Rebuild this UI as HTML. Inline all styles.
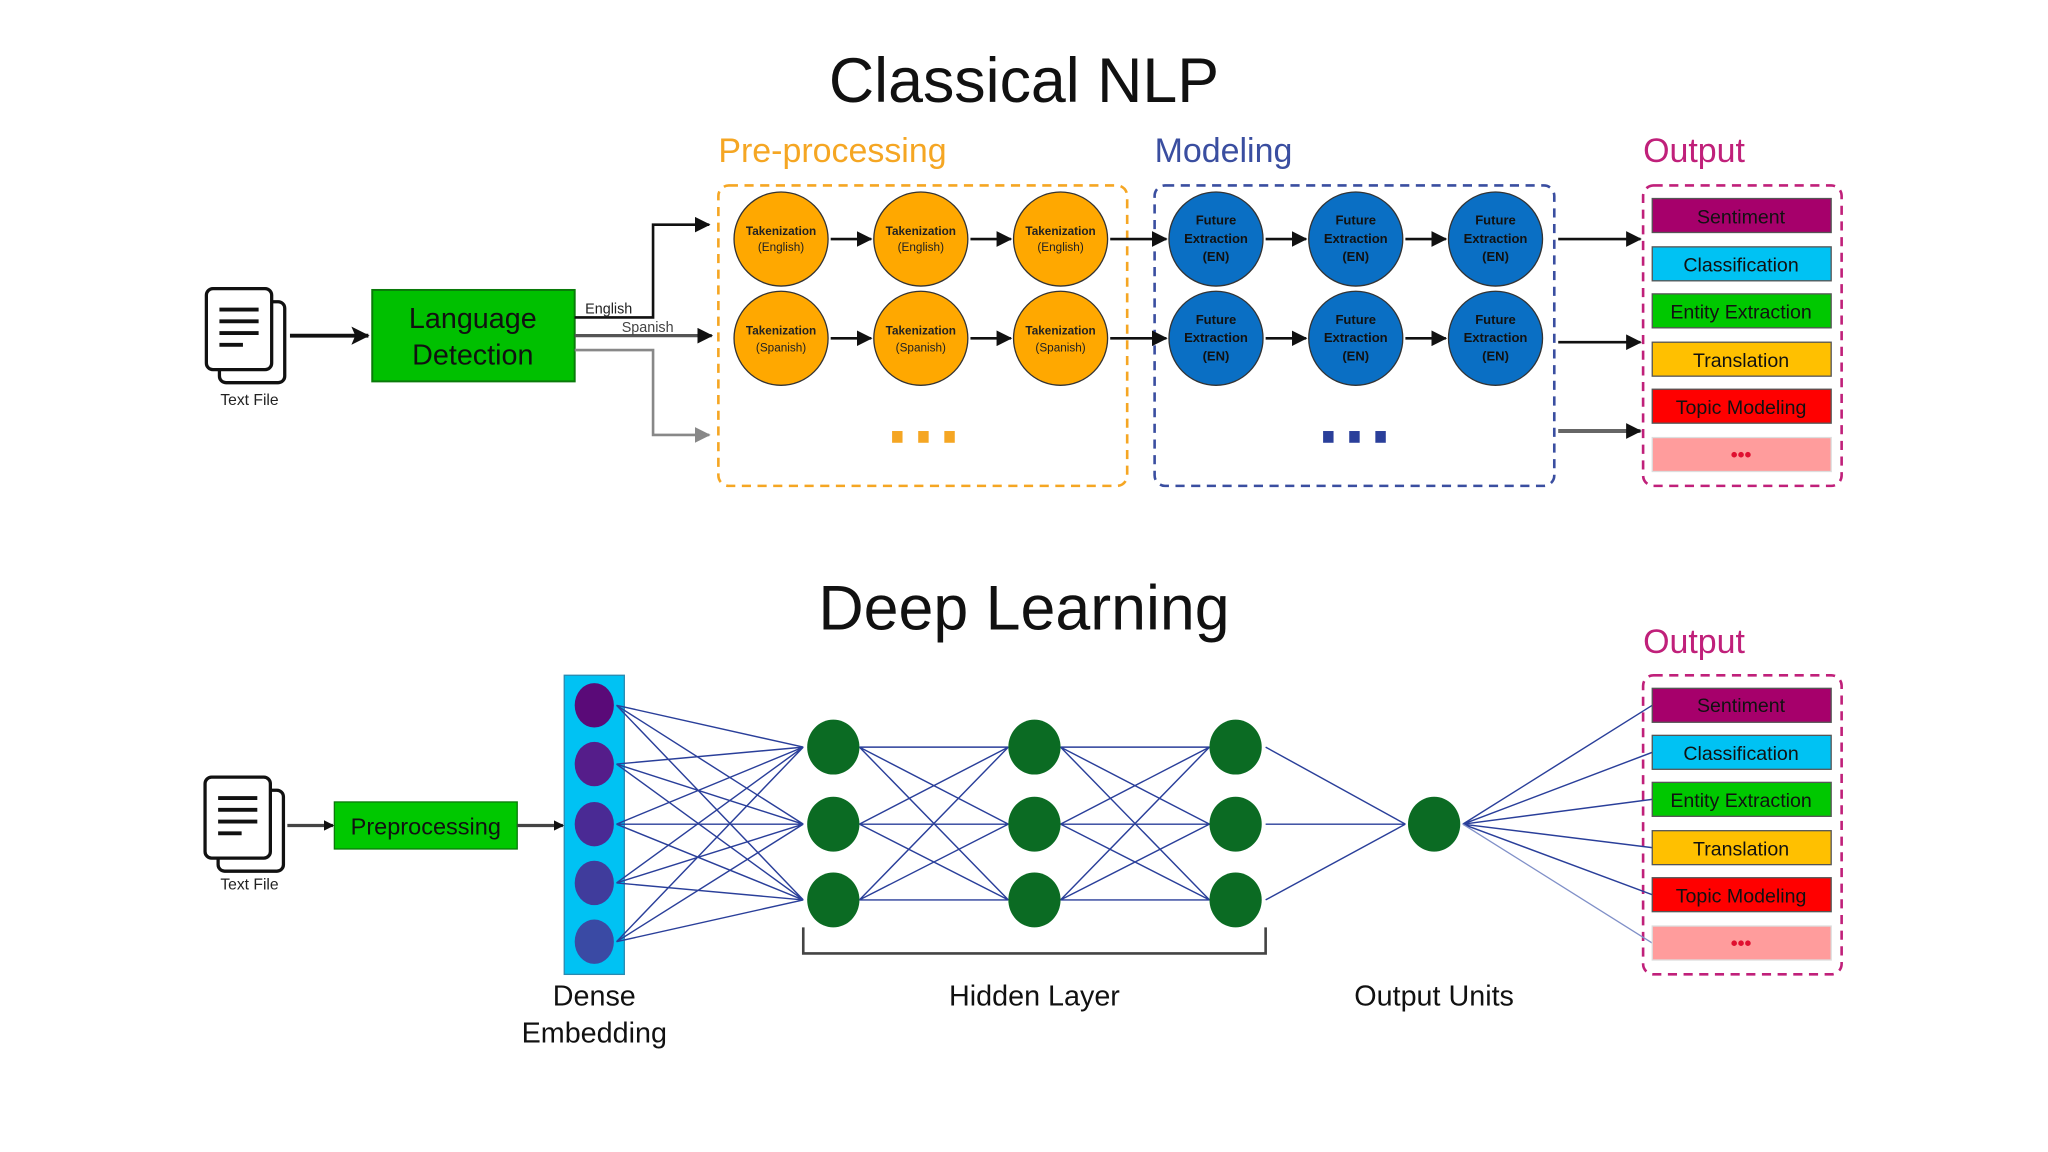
<!DOCTYPE html>
<html><head><meta charset="utf-8"><style>html,body{margin:0;padding:0;background:#fff}svg{display:block}</style></head>
<body>
<svg width="2048" height="1152" viewBox="0 0 1568 882" xmlns="http://www.w3.org/2000/svg" font-family="Liberation Sans, sans-serif">
<defs>
<marker id="ah" markerWidth="8" markerHeight="8" refX="7" refY="4" orient="auto" markerUnits="userSpaceOnUse"><path d="M0,0 L8,4 L0,8 z" fill="#111"/></marker>
<marker id="ahb" markerWidth="14" markerHeight="14" refX="13" refY="7" orient="auto" markerUnits="userSpaceOnUse"><path d="M0,0 L14,7 L0,14 L3,7 z" fill="#111"/></marker>
<marker id="ahg" markerWidth="12" markerHeight="12" refX="11" refY="6" orient="auto" markerUnits="userSpaceOnUse"><path d="M0,0 L12,6 L0,12 z" fill="#888"/></marker>
<marker id="ahk" markerWidth="12" markerHeight="12" refX="11" refY="6" orient="auto" markerUnits="userSpaceOnUse"><path d="M0,0 L12,6 L0,12 z" fill="#111"/></marker>
<g id="doc"><rect x="10" y="10" width="50" height="62" rx="5" fill="#fff" stroke="#111" stroke-width="2.5"/><rect x="0" y="0" width="50" height="62" rx="5" fill="#fff" stroke="#111" stroke-width="2.5"/><path d="M10,16h30M10,25h30M10,34h30M10,43h18" stroke="#111" stroke-width="3"/></g>
</defs>

<text x="784" y="78" font-size="48" text-anchor="middle" fill="#111">Classical NLP</text>
<text x="550" y="124" font-size="26" fill="#f5a623">Pre-processing</text>
<text x="884" y="124" font-size="26" fill="#3a4ea0">Modeling</text>
<text x="1258" y="124" font-size="26" fill="#c0207a">Output</text>

<rect x="550" y="142" width="313" height="230" rx="8" fill="none" stroke="#f5a623" stroke-width="2" stroke-dasharray="7,5"/>
<rect x="884" y="142" width="306" height="230" rx="8" fill="none" stroke="#3a4ea0" stroke-width="2" stroke-dasharray="7,5"/>
<rect x="1258" y="142" width="152" height="230" rx="8" fill="none" stroke="#c0207a" stroke-width="2" stroke-dasharray="7,5"/>

<use href="#doc" x="158" y="221"/>
<text x="191" y="310" font-size="12" text-anchor="middle" fill="#222">Text File</text>
<line x1="222" y1="257" x2="282" y2="257" stroke="#111" stroke-width="3" marker-end="url(#ahb)"/>
<rect x="285" y="222" width="155" height="70" fill="#00c000" stroke="#0a7a0a" stroke-width="1.5"/>
<text x="362" y="251" font-size="22" text-anchor="middle" fill="#111">Language</text>
<text x="362" y="279" font-size="22" text-anchor="middle" fill="#111">Detection</text>
<polyline points="440,243 500,243 500,172 543,172" fill="none" stroke="#111" stroke-width="2" marker-end="url(#ahk)"/>
<line x1="440" y1="257" x2="545" y2="257" stroke="#555" stroke-width="2.5" marker-end="url(#ahk)"/>
<polyline points="440,268 500,268 500,333 543,333" fill="none" stroke="#888" stroke-width="2" marker-end="url(#ahg)"/>
<text x="448" y="240" font-size="11" fill="#222">English</text>
<text x="476" y="254" font-size="11" fill="#444">Spanish</text>

<g stroke="#333" stroke-width="1">
<ellipse cx="598" cy="183" rx="36" ry="36" fill="#ffa800"/><ellipse cx="705" cy="183" rx="36" ry="36" fill="#ffa800"/><ellipse cx="812" cy="183" rx="36" ry="36" fill="#ffa800"/>
<ellipse cx="598" cy="259" rx="36" ry="36" fill="#ffa800"/><ellipse cx="705" cy="259" rx="36" ry="36" fill="#ffa800"/><ellipse cx="812" cy="259" rx="36" ry="36" fill="#ffa800"/>
<ellipse cx="931" cy="183" rx="36" ry="36" fill="#0a6fc4"/><ellipse cx="1038" cy="183" rx="36" ry="36" fill="#0a6fc4"/><ellipse cx="1145" cy="183" rx="36" ry="36" fill="#0a6fc4"/>
<ellipse cx="931" cy="259" rx="36" ry="36" fill="#0a6fc4"/><ellipse cx="1038" cy="259" rx="36" ry="36" fill="#0a6fc4"/><ellipse cx="1145" cy="259" rx="36" ry="36" fill="#0a6fc4"/>
</g>
<g font-size="9" text-anchor="middle" fill="#222">
<g font-weight="bold"><text x="598" y="180">Takenization</text><text x="705" y="180">Takenization</text><text x="812" y="180">Takenization</text><text x="598" y="256">Takenization</text><text x="705" y="256">Takenization</text><text x="812" y="256">Takenization</text></g>
<text x="598" y="192">(English)</text><text x="705" y="192">(English)</text><text x="812" y="192">(English)</text>
<text x="598" y="269">(Spanish)</text><text x="705" y="269">(Spanish)</text><text x="812" y="269">(Spanish)</text>
</g>
<g font-size="10" font-weight="bold" text-anchor="middle" fill="#111">
<text x="931" y="172">Future</text><text x="931" y="186">Extraction</text><text x="931" y="200">(EN)</text>
<text x="1038" y="172">Future</text><text x="1038" y="186">Extraction</text><text x="1038" y="200">(EN)</text>
<text x="1145" y="172">Future</text><text x="1145" y="186">Extraction</text><text x="1145" y="200">(EN)</text>
<text x="931" y="248">Future</text><text x="931" y="262">Extraction</text><text x="931" y="276">(EN)</text>
<text x="1038" y="248">Future</text><text x="1038" y="262">Extraction</text><text x="1038" y="276">(EN)</text>
<text x="1145" y="248">Future</text><text x="1145" y="262">Extraction</text><text x="1145" y="276">(EN)</text>
</g>
<g stroke="#111" stroke-width="2" marker-end="url(#ahk)">
<line x1="636" y1="183" x2="667" y2="183"/><line x1="743" y1="183" x2="774" y2="183"/><line x1="850" y1="183" x2="893" y2="183"/>
<line x1="636" y1="259" x2="667" y2="259"/><line x1="743" y1="259" x2="774" y2="259"/><line x1="850" y1="259" x2="893" y2="259"/>
<line x1="969" y1="183" x2="1000" y2="183"/><line x1="1076" y1="183" x2="1107" y2="183"/>
<line x1="969" y1="259" x2="1000" y2="259"/><line x1="1076" y1="259" x2="1107" y2="259"/>
<line x1="1193" y1="183" x2="1256" y2="183"/><line x1="1193" y1="262" x2="1256" y2="262"/>
</g>
<line x1="1193" y1="330" x2="1256" y2="330" stroke="#666" stroke-width="3" marker-end="url(#ahk)"/>
<g fill="#f5a623"><rect x="683" y="330" width="8" height="9"/><rect x="703" y="330" width="8" height="9"/><rect x="723" y="330" width="8" height="9"/></g>
<g fill="#2a3f9a"><rect x="1013" y="330" width="8" height="9"/><rect x="1033" y="330" width="8" height="9"/><rect x="1053" y="330" width="8" height="9"/></g>

<g stroke="#555" stroke-width="1" font-size="15" text-anchor="middle">
<rect x="1265" y="152" width="137" height="26" fill="#a6006b"/>
<rect x="1265" y="189" width="137" height="26" fill="#00c2f3"/>
<rect x="1265" y="225" width="137" height="26" fill="#00c800"/>
<rect x="1265" y="262" width="137" height="26" fill="#ffc000"/>
<rect x="1265" y="298" width="137" height="26" fill="#ff0000"/>
<rect x="1265" y="335" width="137" height="26" fill="#ff9c9c" stroke="#ddd"/>
</g>
<g font-size="15" text-anchor="middle" fill="#111">
<text x="1333" y="171">Sentiment</text><text x="1333" y="208">Classification</text><text x="1333" y="244">Entity Extraction</text><text x="1333" y="281">Translation</text><text x="1333" y="317">Topic Modeling</text>
</g>
<text x="1333" y="353" font-size="15" font-weight="bold" text-anchor="middle" fill="#e01030">•••</text>

<!-- Deep learning -->
<text x="784" y="482" font-size="48" text-anchor="middle" fill="#111">Deep Learning</text>
<text x="1258" y="500" font-size="26" fill="#c0207a">Output</text>
<rect x="1258" y="517" width="152" height="229" rx="8" fill="none" stroke="#c0207a" stroke-width="2" stroke-dasharray="7,5"/>

<use href="#doc" x="157" y="595"/>
<text x="191" y="681" font-size="12" text-anchor="middle" fill="#222">Text File</text>
<line x1="220" y1="632" x2="255" y2="632" stroke="#444" stroke-width="2.5" marker-end="url(#ah)"/>
<rect x="256" y="614" width="140" height="36" fill="#00c800" stroke="#0a7a0a" stroke-width="1"/>
<text x="326" y="639" font-size="18" text-anchor="middle" fill="#111">Preprocessing</text>
<line x1="396" y1="632" x2="431" y2="632" stroke="#444" stroke-width="2.5" marker-end="url(#ah)"/>
<rect x="432" y="517" width="46" height="229" fill="#00c2f3" stroke="#2a8ab0" stroke-width="1"/>

<g stroke="#2a3f9a" stroke-width="1.1" fill="none">
<path d="M472,540L615,572M472,540L615,631M472,540L615,689M472,585L615,572M472,585L615,631M472,585L615,689M472,631L615,572M472,631L615,631M472,631L615,689M472,676L615,572M472,676L615,631M472,676L615,689M472,721L615,572M472,721L615,631M472,721L615,689"/>
<path d="M658,572L772,572M658,572L772,631M658,572L772,689M658,631L772,572M658,631L772,631M658,631L772,689M658,689L772,572M658,689L772,631M658,689L772,689"/>
<path d="M812,572L926,572M812,572L926,631M812,572L926,689M812,631L926,572M812,631L926,631M812,631L926,689M812,689L926,572M812,689L926,631M812,689L926,689"/>
<path d="M969,572L1076,631M969,631L1076,631M969,689L1076,631"/>
<path d="M1120,631L1265,540M1120,631L1265,576M1120,631L1265,612M1120,631L1265,649M1120,631L1265,685"/>
</g>
<line x1="1120" y1="631" x2="1265" y2="722" stroke="#8090c8" stroke-width="1"/>

<ellipse cx="455" cy="540" rx="15" ry="17" fill="#5a0a78"/>
<ellipse cx="455" cy="585" rx="15" ry="17" fill="#551d8a"/>
<ellipse cx="455" cy="631" rx="15" ry="17" fill="#4a2a94"/>
<ellipse cx="455" cy="676" rx="15" ry="17" fill="#403c9c"/>
<ellipse cx="455" cy="721" rx="15" ry="17" fill="#3a4aa4"/>
<g fill="#0b6b23">
<ellipse cx="638" cy="572" rx="20" ry="21"/><ellipse cx="638" cy="631" rx="20" ry="21"/><ellipse cx="638" cy="689" rx="20" ry="21"/>
<ellipse cx="792" cy="572" rx="20" ry="21"/><ellipse cx="792" cy="631" rx="20" ry="21"/><ellipse cx="792" cy="689" rx="20" ry="21"/>
<ellipse cx="946" cy="572" rx="20" ry="21"/><ellipse cx="946" cy="631" rx="20" ry="21"/><ellipse cx="946" cy="689" rx="20" ry="21"/>
<ellipse cx="1098" cy="631" rx="20" ry="21"/>
</g>
<polyline points="615,710 615,730 969,730 969,710" fill="none" stroke="#444" stroke-width="2"/>

<g font-size="22" text-anchor="middle" fill="#111">
<text x="455" y="770">Dense</text><text x="455" y="798">Embedding</text>
<text x="792" y="770">Hidden Layer</text><text x="1098" y="770">Output Units</text>
</g>

<g stroke="#555" stroke-width="1">
<rect x="1265" y="527" width="137" height="26" fill="#a6006b"/>
<rect x="1265" y="563" width="137" height="26" fill="#00c2f3"/>
<rect x="1265" y="599" width="137" height="26" fill="#00c800"/>
<rect x="1265" y="636" width="137" height="26" fill="#ffc000"/>
<rect x="1265" y="672" width="137" height="26" fill="#ff0000"/>
<rect x="1265" y="709" width="137" height="26" fill="#ff9c9c" stroke="#ddd"/>
</g>
<g font-size="15" text-anchor="middle" fill="#111">
<text x="1333" y="545">Sentiment</text><text x="1333" y="582">Classification</text><text x="1333" y="618">Entity Extraction</text><text x="1333" y="655">Translation</text><text x="1333" y="691">Topic Modeling</text>
</g>
<text x="1333" y="727" font-size="15" font-weight="bold" text-anchor="middle" fill="#e01030">•••</text>
</svg>
</body></html>
